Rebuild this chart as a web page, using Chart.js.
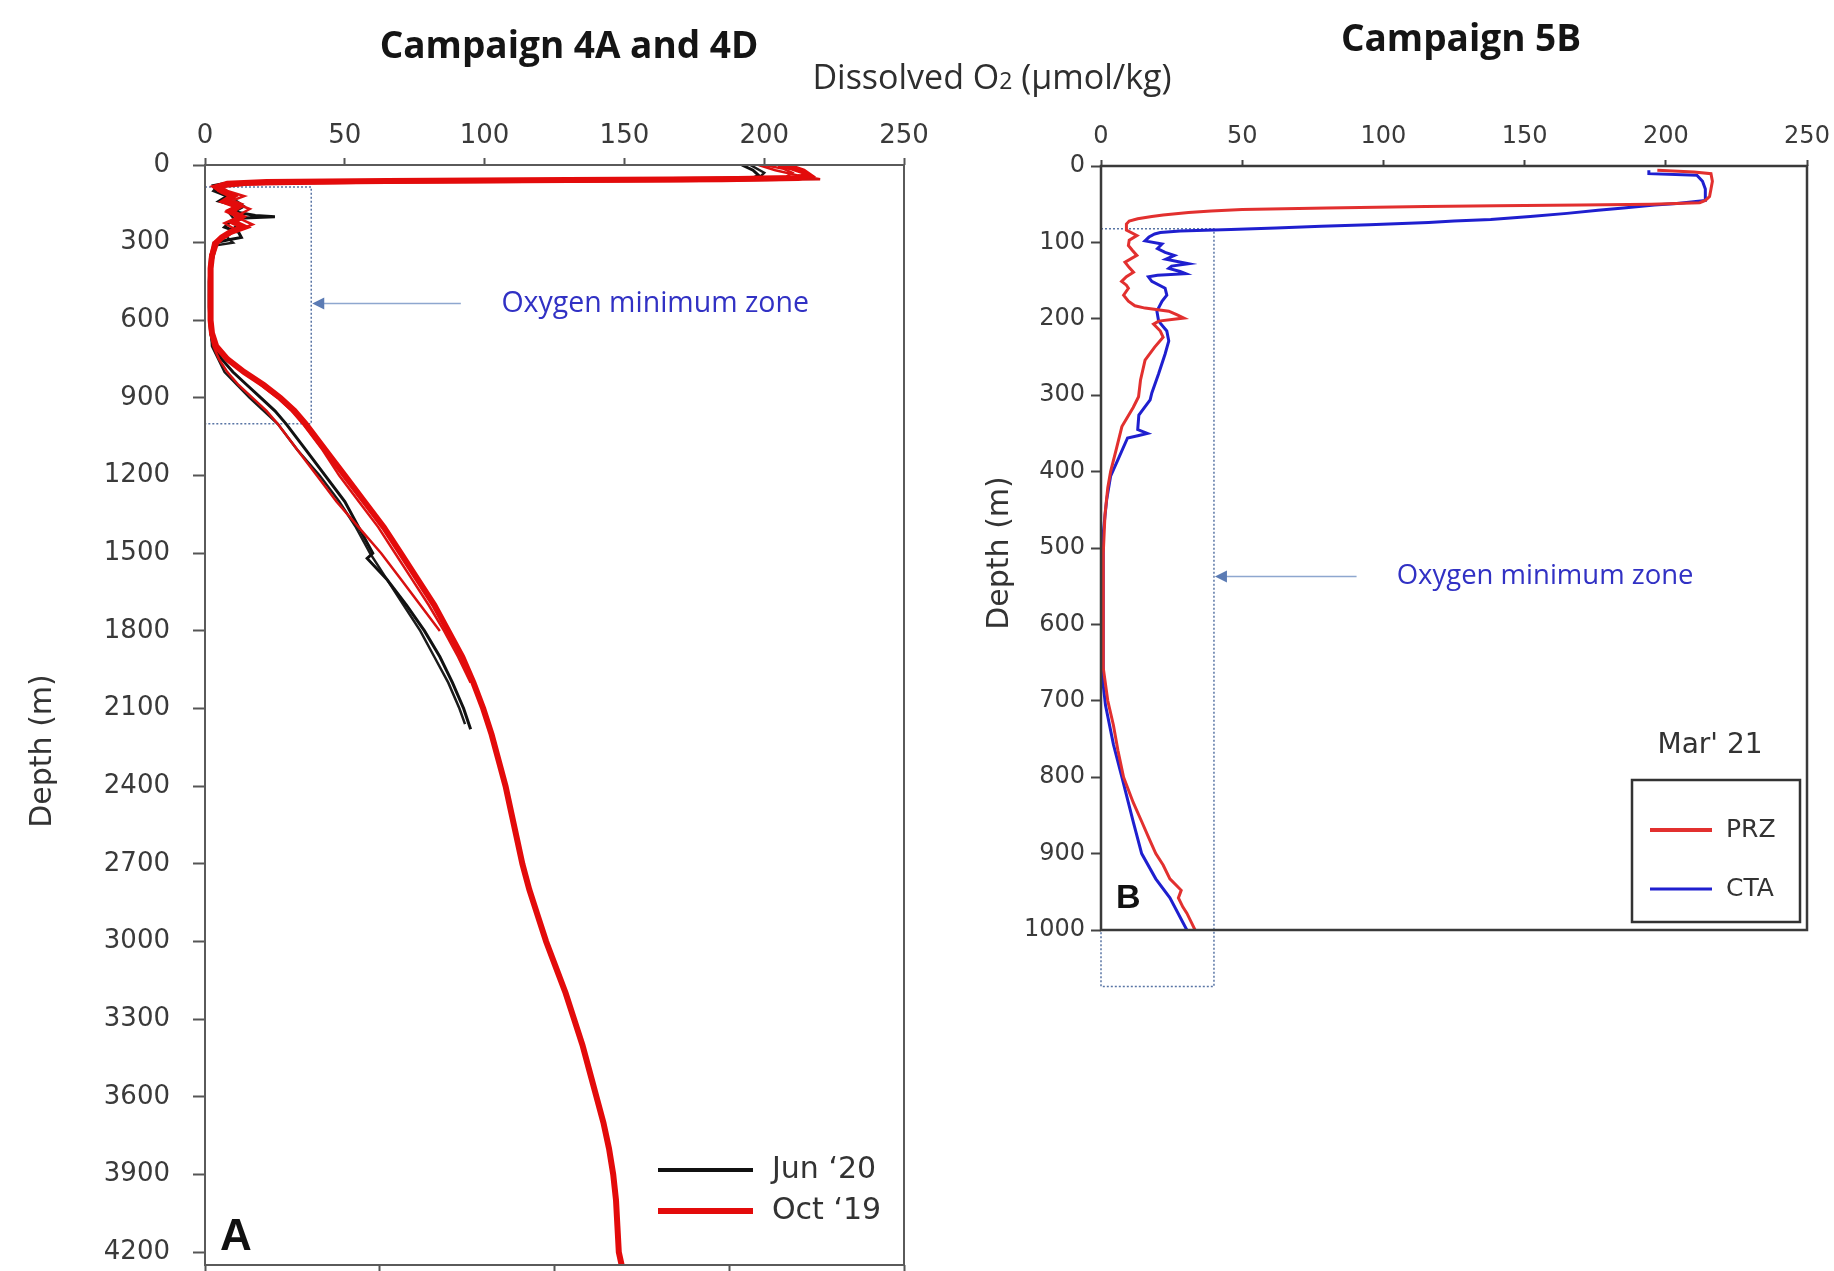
<!DOCTYPE html>
<html>
<head>
<meta charset="utf-8">
<title>Dissolved oxygen profiles</title>
<script src="https://cdn.jsdelivr.net/npm/chart.js@4.4.0/dist/chart.umd.min.js"></script>
<style>
  body { margin: 0; background: #fff; }
  #wrap { position: relative; width: 1834px; height: 1271px; overflow: hidden; background: #fff; }
  canvas { position: absolute; top: 0; }
  #chartA { left: 0; }
  #chartB { left: 960px; }
  .head { position: absolute; z-index: 2; white-space: nowrap; line-height: 1;
          font-family: "Open Sans", sans-serif; transform: translate(-50%, -50%); }
  .bold { font-weight: 700; font-size: 37px; color: #151515; }
  #titleA { left: 569px; top: 43px; }
  #titleB { left: 1461px; top: 36px; }
  #xTitle { left: 992px; top: 76px; font-size: 34px; color: #2e2e2e; }
  #xTitle span { font-size: 23px; }
</style>
</head>
<body>
<div id="wrap">
  <div class="head bold" id="titleA">Campaign 4A and 4D</div>
  <div class="head bold" id="titleB">Campaign 5B</div>
  <div class="head" id="xTitle">Dissolved O<span>2</span> (µmol/kg)</div>
  <canvas id="chartA" width="950" height="1271"></canvas>
  <canvas id="chartB" width="874" height="1271"></canvas>
</div>
<script>
// ---- Campaign 4A/4D, Oct '19 casts (depth m, O2 umol/kg)
const octDepth1 = [0, 10, 25, 40, 50, 55, 58, 62, 66, 72, 85, 100, 120, 140, 160, 180, 200, 220, 240, 260,
  280, 300, 350, 400, 500, 600, 650, 700, 750, 800, 850, 900, 950, 1000, 1100, 1200, 1300, 1400, 1500, 1600,
  1700, 1800, 1900, 2000, 2100, 2200, 2300, 2400, 2500, 2600, 2700, 2800, 2900, 3000, 3100, 3200, 3300, 3400,
  3500, 3600, 3700, 3800, 3900, 4000, 4100, 4200, 4250];
const octO2_1 = [205, 210, 214, 216, 212, 185, 130, 65, 22, 8, 4, 6, 10, 7, 12, 9, 13, 10, 14, 9,
  6, 4, 2.5, 2, 2, 2, 2.5, 4, 8, 14, 21, 27, 32, 36, 43, 50, 57, 64, 70, 76,
  82, 87, 92, 96, 99.5, 102.5, 105, 107.5, 109.5, 111.5, 113.5, 116, 119, 122, 125.5, 129, 132, 135,
  137.5, 140, 142.5, 144.5, 146, 147, 147.5, 148, 149];

const octDepth2 = [0, 15, 30, 45, 52, 58, 64, 70, 80, 100, 120, 140, 170, 200, 230, 260, 290, 320, 400, 500,
  600, 650, 700, 750, 800, 850, 900, 950, 1000, 1100, 1200, 1300, 1400, 1500, 1600, 1700, 1800, 1900, 2000];
const octO2_2 = [200, 207, 210, 208, 160, 80, 25, 10, 5, 8, 14, 9, 16, 11, 17, 10, 5, 3, 2, 1.5,
  1.5, 2, 4, 8, 14, 20, 26, 31, 35, 42, 48, 55, 62, 68, 74, 80, 85.5, 90.5, 95];

const octDepth3 = [0, 20, 40, 55, 62, 68, 75, 85, 100, 115, 130, 150, 175, 200, 225, 250, 275, 300, 350, 450,
  550, 650, 700, 750, 800, 850, 900, 950, 1000, 1100, 1200, 1300, 1400, 1500, 1600, 1700, 1800];
const octO2_3 = [198, 204, 212, 220, 170, 60, 15, 6, 5, 11, 8, 13, 8, 12, 7, 11, 8, 3, 2, 1.5,
  1.5, 2, 3, 5, 8, 12, 17, 22, 26, 33, 40, 47, 55, 63, 70, 77, 84];

// ---- Campaign 4A/4D, Jun '20 casts
const junDepth1 = [0, 20, 40, 50, 56, 60, 64, 70, 80, 100, 120, 140, 160, 180, 195, 200, 205, 220, 240, 260,
  280, 290, 300, 350, 450, 550, 650, 700, 750, 800, 850, 900, 950, 1000, 1100, 1200, 1300, 1400, 1500, 1520,
  1600, 1700, 1800, 1900, 2000, 2100, 2180];
const junO2_1 = [192, 196, 198, 196, 150, 90, 30, 8, 3, 4, 8, 5, 12, 10, 18, 25, 14, 9, 7, 12,
  13, 8, 4, 2, 1.5, 1.5, 2, 3, 6, 10, 15, 20, 25, 29, 36, 43, 50, 55, 60, 58,
  65, 72, 78.5, 84, 88.5, 92.5, 95];

const junDepth2 = [0, 30, 52, 58, 62, 67, 75, 100, 130, 160, 190, 230, 270, 300, 310, 400, 500, 600, 700, 800,
  900, 1000, 1100, 1200, 1300, 1400, 1500, 1600, 1700, 1800, 1900, 2000, 2100, 2160];
const junO2_2 = [195, 200, 198, 140, 70, 15, 5, 3, 10, 14, 9, 12, 7, 10, 4, 2, 2, 2, 2.5, 7,
  16, 26, 33, 41, 48, 54, 59, 65, 71, 77, 82, 87, 91, 93];

// ---- Campaign 5B, Mar '21
const przDepth = [5.6, 8, 10, 20, 30, 40, 45, 48, 50, 51, 52, 53, 55, 57, 59, 61, 64, 66, 69, 72,
  76, 84, 91, 97, 104, 110, 117, 126, 133, 139, 145, 151, 156, 160, 169, 177, 183, 186, 190, 195,
  199, 203, 207, 216, 224, 237, 254, 280, 302, 316, 341, 371, 400, 421, 457, 507, 600, 657, 700, 732,
  765, 800, 833, 858, 880, 900, 915, 933, 948, 958, 970, 978, 990, 1000];
const przO2 = [197, 210, 216, 216.5, 216, 215.5, 214, 212, 195, 170, 140, 115, 80, 50, 39, 31, 22, 18, 13, 10,
  9, 9, 12.7, 10, 9.7, 11, 12.7, 8.5, 10, 11.5, 9, 7.3, 9, 9.7, 8, 9.7, 12, 15.6, 24, 27,
  29.3, 20.4, 18.6, 21, 22, 19, 15.6, 14, 13.3, 11.4, 7.4, 5.4, 3.4, 2.4, 1.4, 0.8, 0.8, 0.8, 2.4, 4.4,
  6, 8, 11.4, 14.4, 17, 19.4, 22, 24.4, 28.4, 27.4, 29, 30.4, 32, 33.3];

const ctaDepth = [5.6, 10, 12, 20, 30, 45, 49, 51, 55, 58, 62, 66, 70, 72, 74, 77, 79, 81, 83, 85,
  87, 89, 93, 98, 102, 108, 113, 117, 122, 128, 131, 134, 138, 141, 143, 145, 151, 160, 169, 177,
  190, 203, 216, 229, 246, 272, 297, 306, 326, 345, 350, 353, 356, 381, 406, 437, 480, 600, 680, 706,
  757, 800, 858, 900, 933, 958, 1000];
const ctaO2 = [194, 194, 211, 213, 214, 214, 204, 196, 185, 176, 165, 152, 138, 125, 116, 95, 78, 62, 46, 28,
  21, 19, 17, 15.6, 21.6, 20, 22.7, 26, 23, 31, 25, 24, 28, 30, 20, 16.8, 18, 22.7, 23.3, 21.6,
  19.8, 20.4, 23.3, 24, 22.7, 20.4, 18, 17.4, 13.4, 13, 16.4, 13, 9.4, 6.4, 3.4, 2, 0.8, 0.8, 0.8, 1.6,
  4.4, 7.4, 11.4, 14.4, 19.4, 24.4, 30.4];

// axis ticks
const o2TickValues = [0, 50, 100, 150, 200, 250];
const o2BottomTicksA = [0, 62.5, 125, 187.5, 250];
const depthTicksA = [0, 300, 600, 900, 1200, 1500, 1800, 2100, 2400, 2700, 3000, 3300, 3600, 3900, 4200];
const depthTicksB = [0, 100, 200, 300, 400, 500, 600, 700, 800, 900, 1000];

const OMZ_TEXT = 'Oxygen minimum zone';

const toPoints = (depth, o2) => depth.map((d, i) => ({ x: o2[i], y: d }));
const setTicks = values => scale => { scale.ticks = values.map(v => ({ value: v })); };
const plain = v => String(v);
// fixed axis box, no extra room reserved for edge labels
const fixBox = (prop, size) => s => {
  s[prop] = size;
  s.paddingTop = s.paddingBottom = s.paddingLeft = s.paddingRight = 0;
};

Chart.defaults.font.family = 'DejaVu Sans';
Chart.defaults.color = '#3a3a3a';

const profile = (label, depth, o2, color, width) => ({
  label, data: toPoints(depth, o2), borderColor: color, backgroundColor: color,
  borderWidth: width, showLine: true, pointRadius: 0, tension: 0
});

// plot box
const frame = {
  id: 'frame',
  afterDatasetsDraw(chart, args, o) {
    const { ctx, chartArea: a } = chart;
    ctx.save();
    ctx.strokeStyle = o.color;
    ctx.lineWidth = o.width;
    ctx.strokeRect(a.left, a.top, a.right - a.left, a.bottom - a.top);
    ctx.restore();
  }
};

// dotted OMZ box, arrow and its label
const omz = {
  id: 'omz',
  beforeDatasetsDraw(chart, args, o) {
    const { ctx, scales: { x, y } } = chart;
    const x0 = x.getPixelForValue(0), x1 = x.getPixelForValue(o.limit);
    const y0 = y.getPixelForValue(o.top), y1 = y.getPixelForValue(o.bottom);
    ctx.save();
    ctx.setLineDash([2, 2]);
    ctx.strokeStyle = '#5874a4';
    ctx.lineWidth = 1.5;
    ctx.strokeRect(x0, y0, x1 - x0, y1 - y0);
    ctx.setLineDash([]);
    const ay = Math.round(y.getPixelForValue(o.arrowDepth)) + 0.5;
    const tip = x1 + 1;
    ctx.strokeStyle = '#8ea7cf';
    ctx.lineWidth = 1.5;
    ctx.beginPath();
    ctx.moveTo(x.getPixelForValue(o.arrowFrom), ay);
    ctx.lineTo(tip + 8, ay);
    ctx.stroke();
    ctx.fillStyle = '#5b7bb4';
    ctx.beginPath();
    ctx.moveTo(tip, ay);
    ctx.lineTo(tip + 12, ay - 6);
    ctx.lineTo(tip + 12, ay + 6);
    ctx.closePath();
    ctx.fill();
    ctx.font = o.textSize + 'px "Open Sans"';
    ctx.fillStyle = '#3131c4';
    ctx.textBaseline = 'middle';
    ctx.fillText(OMZ_TEXT, x.getPixelForValue(o.textAt), ay);
    ctx.restore();
  }
};

// panel letter, depth title and key
const extras = {
  id: 'extras',
  afterDraw(chart, args, o) {
    const { ctx, chartArea: a } = chart;
    const ds = chart.data.datasets;
    ctx.save();
    ctx.translate(o.depthAt[0], o.depthAt[1]);
    ctx.rotate(-Math.PI / 2);
    ctx.font = '30px "DejaVu Sans"';
    ctx.fillStyle = '#333';
    ctx.textAlign = 'center';
    ctx.textBaseline = 'middle';
    ctx.fillText('Depth (m)', 0, 0);
    ctx.restore();

    ctx.save();
    ctx.font = 'bold ' + o.letterSize + 'px "Liberation Sans"';
    ctx.fillStyle = '#111';
    ctx.textBaseline = 'alphabetic';
    ctx.fillText(o.letter, a.left + 15, a.bottom - o.letterLift);

    if (o.boxed) {
      ctx.strokeStyle = '#333';
      ctx.lineWidth = 2.5;
      ctx.strokeRect(a.right - 175, a.bottom - 150, 168, 142);
      ctx.font = '28px "DejaVu Sans"';
      ctx.fillStyle = '#333';
      ctx.textAlign = 'center';
      ctx.textBaseline = 'middle';
      ctx.fillText(o.keyTitle, a.right - 97, a.bottom - 184);
    }
    ctx.textAlign = 'left';
    ctx.textBaseline = 'middle';
    o.key.forEach(k => {
      const yy = a.bottom - k.dy;
      ctx.strokeStyle = ds[k.index].borderColor;
      ctx.lineWidth = k.width;
      ctx.beginPath();
      ctx.moveTo(a.right - o.lineFrom, yy);
      ctx.lineTo(a.right - o.lineTo, yy);
      ctx.stroke();
      ctx.font = o.keySize + 'px "DejaVu Sans"';
      ctx.fillStyle = '#333';
      ctx.fillText(k.text, a.right - o.textFrom, yy);
    });
    ctx.restore();
  }
};

const noGrid = (tick, color) => ({
  drawOnChartArea: false, drawTicks: true, tickLength: tick, tickColor: color, tickWidth: 2
});

// ---- Panel A
new Chart(document.getElementById('chartA'), {
  type: 'scatter',
  data: {
    datasets: [
      profile("Oct '19", octDepth1, octO2_1, '#e30b0b', 6),
      profile("Oct '19", octDepth2, octO2_2, '#dd1212', 2.5),
      profile("Oct '19", octDepth3, octO2_3, '#d81010', 2.5),
      profile("Jun '20", junDepth1, junO2_1, '#111111', 3),
      profile("Jun '20", junDepth2, junO2_2, '#1c1c1c', 2.5)
    ]
  },
  options: {
    responsive: false,
    animation: false,
    events: [],
    layout: { padding: { left: 0, right: 46, top: 0, bottom: 0 } },
    scales: {
      x: {
        position: 'top', min: 0, max: 250,
        afterBuildTicks: setTicks(o2TickValues),
        ticks: { padding: 6, font: { size: 26 }, maxRotation: 0, autoSkip: false, callback: plain },
        grid: noGrid(7, '#555'), border: { display: false },
        afterFit: fixBox('height', 165)
      },
      x2: {
        position: 'bottom', min: 0, max: 250,
        afterBuildTicks: setTicks(o2BottomTicksA),
        ticks: { display: false },
        grid: noGrid(7, '#555'), border: { display: false },
        afterFit: fixBox('height', 6)
      },
      y: {
        reverse: true, min: 0, max: 4250,
        afterBuildTicks: setTicks(depthTicksA),
        ticks: { padding: 23, font: { size: 26 }, autoSkip: false, callback: plain },
        grid: noGrid(12, '#555'), border: { display: false },
        afterFit: fixBox('width', 205)
      }
    },
    plugins: {
      legend: { display: false },
      tooltip: { enabled: false },
      frame: { color: '#5a5a5a', width: 2 },
      omz: { limit: 38, top: 85, bottom: 1000, arrowDepth: 532, arrowFrom: 91.5, textAt: 106, textSize: 28.5 },
      extras: {
        depthAt: [43, 751], letter: 'A', letterSize: 44, letterLift: 15,
        boxed: false, lineFrom: 246, lineTo: 151, textFrom: 132, keySize: 30,
        key: [
          { index: 3, text: 'Jun \u201820', dy: 95, width: 4 },
          { index: 0, text: 'Oct \u201819', dy: 54, width: 6 }
        ]
      }
    }
  },
  plugins: [omz, frame, extras]
});

// ---- Panel B
new Chart(document.getElementById('chartB'), {
  type: 'scatter',
  data: {
    datasets: [
      profile('PRZ', przDepth, przO2, '#e2302f', 3),
      profile('CTA', ctaDepth, ctaO2, '#1f1fcf', 3)
    ]
  },
  options: {
    responsive: false,
    animation: false,
    events: [],
    layout: { padding: { left: 0, right: 27, top: 0, bottom: 341 } },
    scales: {
      x: {
        position: 'top', min: 0, max: 250,
        afterBuildTicks: setTicks(o2TickValues),
        ticks: { padding: 9, font: { size: 24 }, maxRotation: 0, autoSkip: false, callback: plain },
        grid: noGrid(6, '#444'), border: { display: false },
        afterFit: fixBox('height', 166)
      },
      y: {
        reverse: true, min: 0, max: 1000,
        afterBuildTicks: setTicks(depthTicksB),
        ticks: { padding: 6, font: { size: 24 }, autoSkip: false, callback: plain },
        grid: noGrid(10, '#444'), border: { display: false },
        afterFit: fixBox('width', 141)
      }
    },
    plugins: {
      legend: { display: false },
      tooltip: { enabled: false },
      frame: { color: '#3a3a3a', width: 2.5 },
      omz: { limit: 40, top: 82, bottom: 1074, arrowDepth: 537, arrowFrom: 90.5, textAt: 104.7, textSize: 27.5 },
      extras: {
        depthAt: [40, 553], letter: 'B', letterSize: 34, letterLift: 22,
        boxed: true, keyTitle: "Mar' 21", lineFrom: 157, lineTo: 95, textFrom: 81, keySize: 25,
        key: [
          { index: 0, text: 'PRZ', dy: 100, width: 4 },
          { index: 1, text: 'CTA', dy: 41, width: 3 }
        ]
      }
    }
  },
  plugins: [omz, frame, extras]
});
</script>
</body>
</html>
